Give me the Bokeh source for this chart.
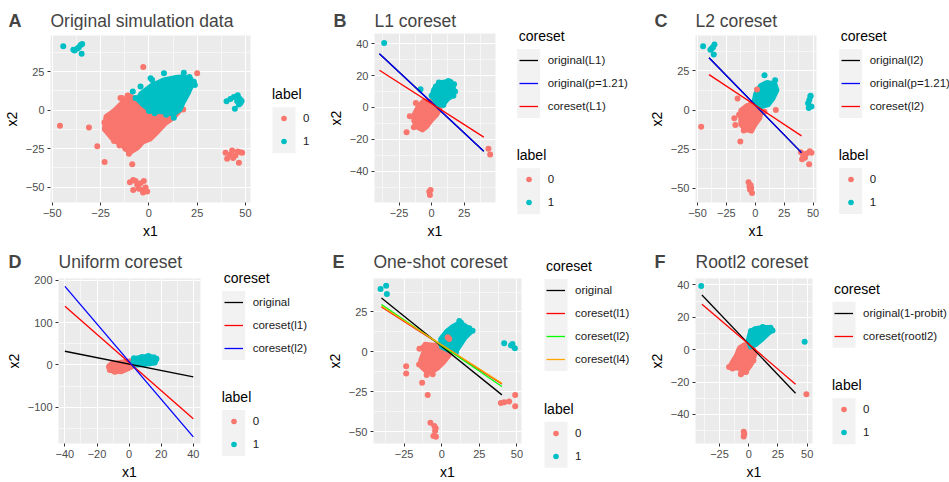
from bokeh.plotting import figure
from bokeh.layouts import row, column
from bokeh.models import Legend, LegendItem, FixedTicker, Label, BoxAnnotation, Range1d
from bokeh.embed import file_html
from bokeh.resources import INLINE

RED = "#F8766D"
TEAL = "#00BFC4"
PANEL_BG = "#EBEBEB"
KEY_BG = "#F2F2F2"
FONT = "Liberation Sans"
NAN = float("nan")

LINE_X = [-40, 40]

# ---------------- Panel A ----------------
A_xticks = [-50, -25, 0, 25, 50]
A_yticks = [-50, -25, 0, 25]
A_red_blob_x = [-10.3, -6, -1, 6, 13, 16, 12, 9, 4.3, 0.9, -3, -6, -10, -13.8, -18.9, -23.3, -22.4, -18, -14]
A_red_blob_y = [10, 7, 3, -1, -3, -1, -6, -8.5, -14.7, -19, -21, -25, -28, -23.3, -19, -12.6, -4, 0, 5]
A_cyan_blob_x = [-6, -4.3, 0.9, 7.8, 14, 18.1, 22, 22.6, 20.7, 18, 16.4, 12.9, 8, 3, 0.9, -3]
A_cyan_blob_y = [6.8, 11, 16, 20, 21.5, 22, 20.5, 16.5, 11.1, 5, 0.3, -3, -1.5, -1, -0.8, 3]
A_red_x = [-46, -31, -26.7, -22.9, -8.6, -2.9, 25, 17.8, -14.7, -21.2, -21.9, -18, -16.4, -15.2, -12.1,
           -10.3, -7.4, -5.2, 2.6, 7.8, 11.2, 13.8, -20.2, -23, -11, -6, -14, 39.7, 40.5, 43.1, 44.8, 46,
           47.4, 46.6, 43.6, 48.3, 42, -9.8, -8.1, -6.9, -6, -5.2, -3.4, -1.7, -0.9, -2.6, -4.3, -8.1, -3]
A_red_y = [-10.2, -11.3, -23.4, -33.7, -35.2, 28.1, 23.9, 0.4, 7.9, -3.8, -10.2, -20, -16.6, -23, -25.1,
           -28.3, -24.1, -23, -13.4, -6, -3.8, -2.8, -12.4, -8, 9.5, 7.5, 7.9, -27.7, -31.5, -26.2, -29.4, -26.8,
           -27.3, -34.1, -31.1, -27.7, -29, -46.9, -45.4, -46, -48.6, -51.1, -51.8, -50.3, -52.8, -46, -47.5, -51.8, -53.5]
A_cyan_x = [-44.3, -39.1, -38.4, -36.2, -35.3, -34.5, -34.8, -37, 40.2, 42.2, 44, 46, 47.1, 46.6, 44.5, 45.7,
            47.4, 48, -8.3, -6.9, 1.7, 18.1, 23.3, 23.8, 0, 12.9, 7.8, -4.3, 0.9, 21, 3, 9]
A_cyan_y = [41.5, 39.2, 38.8, 40.9, 42.4, 43, 36.6, 40, 5.8, 7.2, 8.5, 9.6, 7.2, 3.6, 0.9, 5.8,
            4.7, 6, 12.1, 7.9, 19.6, 24.3, 18.5, 16.4, -0.6, -4.9, 24, 15.4, 20.8, 21.5, -2, -3]

# ---------------- Panel B ----------------
B_xticks = [-25, 0, 25]
B_yticks = [-40, -20, 0, 20, 40]
B_red_blob_x = [-10.3, -6.4, 0, 5.1, 6.9, 3.8, 0, -3.8, -6.9, -11.5, -14.1, -13.6]
B_red_blob_y = [1.1, 4.3, 4.3, 1.6, -0.9, -5.1, -8.3, -12.4, -14.5, -12.4, -8.3, -4.1]
B_red_x = [-19.2, -16.7, -13.6, -12.1, 1.3, 43.6, 44.9, -1.8, -1.3, -0.8, -8, -4, 5.5, -10]
B_red_y = [-15.5, -5.5, -12.4, 2.8, 4.9, -25.9, -29.6, -52.9, -55, -51.9, -13, -10, -1, -10]
B_cyan_blob_x = [0, 1.3, 3.3, 5.6, 12.8, 17.2, 16.7, 12.8, 9, 5.1, 1.3]
B_cyan_blob_y = [7.4, 11.5, 13.2, 15.7, 16.7, 14.6, 7.4, 5.3, 1.6, 1.1, 5.3]
B_cyan_x = [-36.4, -8.5, 5.6, 12.8, 17.2, 16.7, 3.3, 9, 14.5, 18, 0]
B_cyan_y = [40.6, 11.5, 15.7, 16.7, 14.6, 7.4, 13.2, 1.6, 16, 10, 7.4]
B_orig_l1 = [33.8, -27.5]
B_orig_p121 = [33.8, -27.5]
B_core_l1 = [23.4, -18.6]

# ---------------- Panel C ----------------
C_xticks = [-50, -25, 0, 25, 50]
C_yticks = [-50, -25, 0, 25]
C_red_blob_x = [-12.9, -7.2, 0, 5.7, 4.3, 0, -2.9, -8.6, -12.9]
C_red_blob_y = [0, 3.2, 2.5, 0, -5.3, -9.5, -13.8, -12.7, -9.5]
C_red_x = [-46.8, -15.3, -18.1, -17.2, -12.9, 17.8, -5.8, -5, -4.5, -2.8, -3.5, -4, 39.6, 41.5, 44.4,
           47.2, 48.6, 46.6, 43, 40.5, -4, 8, -14, -10]
C_red_y = [-10.6, 7.4, -5.3, -9.5, -20.1, 0, -46.2, -49, -51, -53, -50, -48, -26.9, -29.4, -27.8,
           -26.3, -27.3, -34.7, -30.5, -31.5, 3.5, -1, -3, -13]
C_red_top_x = [1.5]
C_red_top_y = [13.1]
C_cyan_blob_x = [-1.5, 0, 4.3, 10.1, 17.2, 19.2, 15.8, 11.5, 4.3]
C_cyan_blob_y = [5.3, 10.6, 15.9, 18, 17, 12.7, 7.4, 3.2, 1.7]
C_cyan_x = [-45.1, -38.8, -36.5, -35.3, -35.9, -37.5, 8, 17.2, 45.7, 46.3, 47.7, 48.6, 46.8, 47.9]
C_cyan_y = [40.9, 38.6, 40.2, 42, 35.6, 39.5, 22.2, 19.1, 4.4, 1.3, 8.7, 2.3, 6.5, 9.2]
C_orig_l2 = [33.5, -27.2]
C_orig_p121 = [33.5, -27.2]
C_core_l2 = [22.7, -16.5]

# ---------------- Panel D ----------------
D_xticks = [-40, -20, 0, 20, 40]
D_yticks = [-100, 0, 100, 200]
D_red_blob_x = [-12.8, -11, -6, -1, 3, 4, 2, -3, -8, -12]
D_red_blob_y = [-1, 5, 7, 10, 12, 3, -5, -14, -17, -14]
D_red_x = [-12.5, -12, -9, -5, -1, 3, -10]
D_red_y = [-5, -12, -16, -15, -8, 5, 4]
D_cyan_blob_x = [2, 5, 10, 16, 17.5, 15, 9, 3]
D_cyan_blob_y = [8, 18, 21, 20, 12, 3, 0, -2]
D_cyan_x = [3, 17, 16, 8, 12]
D_cyan_y = [16, 15, 6, 19, 21]
D_orig = [32.5, -28.3]
D_core_l1 = [139, -127]
D_core_l2 = [186, -170]

# ---------------- Panel E ----------------
E_xticks = [-25, 0, 25, 50]
E_yticks = [-50, -25, 0, 25]
E_red_blob_x = [-10.4, -4.9, -1.5, 2.9, 6.2, 5.1, 1.8, -2.6, -7.1, -10.4, -13.7, -14.3, -12.6]
E_red_blob_y = [4.9, 4.5, 3.9, 2.9, 0.8, -2.3, -6.4, -10.5, -13.2, -12.6, -9.5, -5.4, -1.2]
E_red_x = [-14.8, -12.1, -10.8, -23.6, -23.6, -13, -9.3, -7.5, -4.9, -4.4, -5.5, -3.8, -4, 41.5, 44.8,
           48.8, 48.8, 39.3, -10, -6, -15]
E_red_y = [1.9, 2.9, 4.5, -9.1, -13.6, -19.4, -27, -44.5, -46.6, -49.7, -52.8, -53.2, -48, -31.7, -31.1,
           -27, -34.2, -32.1, -14.5, -14, -8]
E_red_top_x = [4, 5]
E_red_top_y = [9.1, 8]
E_cyan_blob_x = [-1.1, 3, 7, 11, 12.8, 18.3, 20.5, 16, 13.9, 9.5, 4, -0.4]
E_cyan_blob_y = [8, 13, 16, 18, 18.3, 14.8, 13.2, 9, 6, -0.2, 0.8, 2.9]
E_cyan_x = [-40.6, -36.9, -36.4, 41.5, 47, 48.6, 46, 20.5, 18.3, 12.8, 11.7, 9.5, -0.5, 15]
E_cyan_y = [39.4, 41.4, 36.3, 5.4, 4.9, 2.3, 4, 13.2, 14.8, 18.3, 19.4, -0.2, 5, 16]
E_orig = [33.8, -27]
E_core_l1 = [28.2, -20.2]
E_core_l2 = [29.7, -21.8]
E_core_l4 = [28.6, -19.8]

# ---------------- Panel F ----------------
F_xticks = [-25, 0, 25, 50]
F_yticks = [-40, -20, 0, 20, 40]
F_red_blob_x = [-0.9, 3.5, 5.8, 4, 2, -2.3, -6.7, -7.5, -13.9, -16.8, -14.5, -11, -8.1, -3.8]
F_red_blob_y = [3.4, 1.8, -2.6, -6.7, -9.7, -13.8, -15.2, -11.7, -11.7, -10.7, -7.7, -3.6, 1.4, 3.4]
F_red_x = [-16.8, -13.9, -6.7, -2.3, 49.3, -4.3, -4.3, -3.8, 4, -10, -8.5]
F_red_y = [-10.7, -11.7, -15.2, -13.8, -27.5, -50.8, -53.6, -52, -6.7, -9, -1]
F_cyan_blob_x = [-0.9, 1.2, 4.9, 12.2, 18.6, 20.3, 16.5, 12.2, 6.4, 1.2]
F_cyan_blob_y = [5.5, 11.5, 13.2, 14, 14, 11.9, 9.5, 6.5, 3, 1.4]
F_cyan_x = [-40.6, 47.8, 18.6, 20.3, 2, 12]
F_cyan_y = [39.3, 4.9, 13.5, 11.9, 11.5, 14]
F_orig = [33.8, -26.9]
F_core = [28.1, -21.3]

ROW = 23      # legend row pitch (px)
KEY = 23      # legend key box width (px)
HEAD = 30     # header strip height (px)
H = 241


def minors(ticks):
    step = ticks[1] - ticks[0]
    return [ticks[0] - step / 2] + [t + step / 2 for t in ticks]


def style_axis(ax, label):
    ax.axis_label = label
    ax.axis_line_color = None
    ax.major_tick_line_color = "#333333"
    ax.major_tick_in = 0
    ax.major_tick_out = 3
    ax.minor_tick_line_color = None
    ax.major_label_text_font = FONT
    ax.major_label_text_font_size = "11px"
    ax.major_label_text_color = "#4D4D4D"
    ax.major_label_standoff = 2
    ax.axis_label_text_font = FONT
    ax.axis_label_text_font_size = "14px"
    ax.axis_label_text_font_style = "normal"
    ax.axis_label_text_color = "black"
    ax.axis_label_standoff = 3


def blank_fig(w, h):
    f = figure(width=w, height=h, x_range=Range1d(0, w), y_range=Range1d(h, 0),
               x_axis_type=None, y_axis_type=None, output_backend="svg",
               toolbar_location=None, min_border=0, outline_line_color=None,
               background_fill_color="white", border_fill_color="white")
    f.frame_align = False
    return f


def add_legend(f, entries, kind, title, box_left, first_center, fig_h):
    """entries: list of (label, colour); kind: 'line' or 'dot'. Coordinates in legend-figure pixels."""
    n = len(entries)
    last_center = first_center + (n - 1) * ROW
    f.add_layout(BoxAnnotation(left=box_left, right=box_left + KEY,
                               top=first_center - ROW / 2, bottom=last_center + ROW / 2,
                               fill_color=KEY_BG, fill_alpha=1, line_color=None, level="underlay"))
    items = []
    for lab, col in entries:
        # legend proxies: undefined points, never drawn on the canvas
        if kind == "line":
            r = f.line(x=[NAN, NAN], y=[NAN, NAN], line_color=col, line_width=1.3)
        else:
            r = f.scatter(x=[NAN], y=[NAN], size=6, fill_color=col, line_color=None)
        items.append(LegendItem(label=lab, renderers=[r]))
    if kind == "line":
        inset, gw = 2, KEY - 4
    else:
        inset, gw = 0, KEY
    lg = Legend(items=items, title=title,
                location=(box_left + inset, fig_h - (last_center + 7)),
                orientation="vertical", padding=0, margin=0, spacing=ROW - 14,
                glyph_width=gw, glyph_height=14, label_height=14, label_standoff=8 + inset,
                title_standoff=9, border_line_color=None, background_fill_alpha=0,
                label_text_font=FONT, label_text_font_size="11.5px", label_text_color="#1A1A1A",
                title_text_font=FONT, title_text_font_size="14px", title_text_font_style="normal",
                title_text_color="black")
    f.add_layout(lg)


def make_panel(letter, title, w, frame, xr, yr, xt, yt,
               red_blob, red_pts, cyan_blob, cyan_pts, red_top, lines,
               letter_x, coreset_leg, label_leg):
    fl, ft, fr, fb = frame
    box_left = label_leg[0]
    pw = int(box_left - 4)
    ph = H - HEAD

    # header with panel letter and title
    hd = blank_fig(pw, HEAD)
    hd.add_layout(Label(x=letter_x, y=20, text=letter, text_font=FONT, text_font_style="bold",
                        text_font_size="18px", text_baseline="middle", text_align="left"))
    hd.add_layout(Label(x=fl, y=20, text=title, text_font=FONT, text_font_style="normal",
                        text_font_size="17.5px", text_baseline="middle", text_align="left"))

    p = figure(width=pw, height=ph, x_range=xr, y_range=yr,
               output_backend="svg", toolbar_location=None,
               min_border_left=fl, min_border_right=pw - fr,
               min_border_top=ft - HEAD, min_border_bottom=H - fb,
               background_fill_color=PANEL_BG, border_fill_color="white",
               outline_line_color=None)
    p.frame_align = False
    xtk = FixedTicker(ticks=xt, minor_ticks=minors(xt))
    ytk = FixedTicker(ticks=yt, minor_ticks=minors(yt))
    p.xaxis.ticker = xtk
    p.yaxis.ticker = ytk
    p.xgrid.ticker = xtk
    p.ygrid.ticker = ytk
    style_axis(p.xaxis[0], "x1")
    style_axis(p.yaxis[0], "x2")
    for g in (p.xgrid[0], p.ygrid[0]):
        g.grid_line_color = "white"
        g.grid_line_width = 1.1
        g.minor_grid_line_color = "white"
        g.minor_grid_line_width = 0.55

    p.patch(red_blob[0], red_blob[1], fill_color=RED, line_color=RED, line_width=4, line_join="round")
    p.scatter(red_pts[0], red_pts[1], size=6, fill_color=RED, line_color=None)
    p.patch(cyan_blob[0], cyan_blob[1], fill_color=TEAL, line_color=TEAL, line_width=4, line_join="round")
    p.scatter(cyan_pts[0], cyan_pts[1], size=6, fill_color=TEAL, line_color=None)
    if red_top is not None:
        p.scatter(red_top[0], red_top[1], size=6, fill_color=RED, line_color=None)
    for lab, ys, col in lines:
        p.line(LINE_X, ys, line_color=col, line_width=1.3)

    # legend strip, full panel height, coordinates = panel pixels
    lw = w - pw
    lf = blank_fig(lw, H)
    if lines:
        add_legend(lf, [(lab, col) for lab, ys, col in lines], "line", "coreset",
                   coreset_leg[0] - pw, coreset_leg[1], H)
    add_legend(lf, [("0", RED), ("1", TEAL)], "dot", "label",
               label_leg[0] - pw, label_leg[1], H)

    return row(column(hd, p), lf)


pA = make_panel("A", "Original simulation data", 316, (50, 35, 250, 204),
                (-50.9, 52.6), (-60, 48.5), A_xticks, A_yticks,
                (A_red_blob_x, A_red_blob_y), (A_red_x, A_red_y),
                (A_cyan_blob_x, A_cyan_blob_y), (A_cyan_x, A_cyan_y), None, [],
                8, None, (272, 118.3))

pB = make_panel("B", "L1 coreset", 316, (58, 33, 179, 204),
                (-43.8, 49), (-59.7, 46.5), B_xticks, B_yticks,
                (B_red_blob_x, B_red_blob_y), (B_red_x, B_red_y),
                (B_cyan_blob_x, B_cyan_blob_y), (B_cyan_x, B_cyan_y), None,
                [("original(L1)", B_orig_l1, "black"),
                 ("original(p=1.21)", B_orig_p121, "#0000FF"),
                 ("coreset(L1)", B_core_l1, "#FF0000")],
                17, (200.7, 60), (200.7, 179.3))

pC = make_panel("C", "L2 coreset", 317, (63, 35, 184, 203),
                (-51.7, 53), (-59.1, 47.7), C_xticks, C_yticks,
                (C_red_blob_x, C_red_blob_y), (C_red_x, C_red_y),
                (C_cyan_blob_x, C_cyan_blob_y), (C_cyan_x, C_cyan_y), (C_red_top_x, C_red_top_y),
                [("original(l2)", C_orig_l2, "black"),
                 ("original(p=1.21)", C_orig_p121, "#0000FF"),
                 ("coreset(l2)", C_core_l2, "#FF0000")],
                22, (206.7, 60), (206.7, 179))

pD = make_panel("D", "Uniform coreset", 316, (58, 37, 200, 204),
                (-44, 44.5), (-185.8, 204.7), D_xticks, D_yticks,
                (D_red_blob_x, D_red_blob_y), (D_red_x, D_red_y),
                (D_cyan_blob_x, D_cyan_blob_y), (D_cyan_x, D_cyan_y), None,
                [("original", D_orig, "black"),
                 ("coreset(l1)", D_core_l1, "#FF0000"),
                 ("coreset(l2)", D_core_l2, "#0000FF")],
                8, (221.7, 61), (221.7, 180))

pE = make_panel("E", "One-shot coreset", 316, (57, 37, 205, 204),
                (-45.3, 53), (-57.5, 46), E_xticks, E_yticks,
                (E_red_blob_x, E_red_blob_y), (E_red_x, E_red_y),
                (E_cyan_blob_x, E_cyan_blob_y), (E_cyan_x, E_cyan_y), (E_red_top_x, E_red_top_y),
                [("original", E_orig, "black"),
                 ("coreset(l1)", E_core_l1, "#FF0000"),
                 ("coreset(l2)", E_core_l2, "#00FF00"),
                 ("coreset(l4)", E_core_l4, "#FFA500")],
                16, (228, 49), (228, 191.7))

pF = make_panel("F", "Rootl2 coreset", 317, (63, 37, 180, 204),
                (-45.5, 54.5), (-58, 44), F_xticks, F_yticks,
                (F_red_blob_x, F_red_blob_y), (F_red_x, F_red_y),
                (F_cyan_blob_x, F_cyan_blob_y), (F_cyan_x, F_cyan_y), None,
                [("original(1-probit)", F_orig, "black"),
                 ("coreset(rootl2)", F_core, "#FF0000")],
                22, (200, 71.7), (200, 168.3))

layout = column(row(pA, pB, pC), row(pD, pE, pF))
open("out.html", "w").write(file_html(layout, INLINE))
